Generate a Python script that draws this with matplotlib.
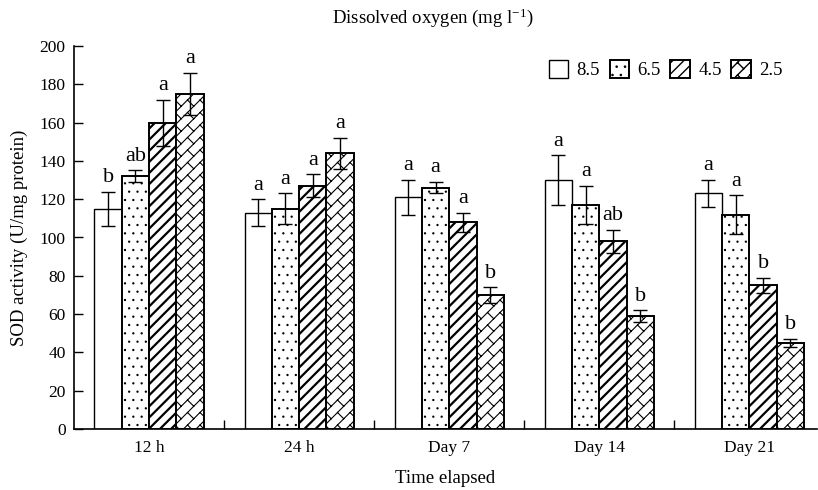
import matplotlib
matplotlib.use('Agg')
import matplotlib.pyplot as plt
import matplotlib.hatch as mhatch
from matplotlib.path import Path
import numpy as np

# data
times = ['12 h', '24 h', 'Day 7', 'Day 14', 'Day 21']
oxygen = ['8.5', '6.5', '4.5', '2.5']
sod_85 = [115, 113, 121, 130, 123]
sod_65 = [132, 115, 126, 117, 112]
sod_45 = [160, 127, 108, 98, 75]
sod_25 = [175, 144, 70, 59, 45]
err_85 = [9, 7, 9, 13, 7]
err_65 = [3, 8, 3, 10, 10]
err_45 = [12, 6, 5, 6, 4]
err_25 = [11, 8, 4, 3, 2]
let_85 = ['b', 'a', 'a', 'a', 'a']
let_65 = ['ab', 'a', 'a', 'a', 'a']
let_45 = ['a', 'a', 'a', 'ab', 'b']
let_25 = ['a', 'a', 'b', 'b', 'b']


class BrickHatch(mhatch.HatchPatternBase):
    # diagonal brick pattern, drawn for the '*' hatch character
    def __init__(self, hatch, density):
        self.n = 8 if '*' in hatch else 0
        self.segs = self.make_segs() if self.n else []
        self.num_vertices = 2 * len(self.segs)

    def make_segs(self):
        n = self.n
        segs = []
        for k in range(-n - 2, n + 3):
            a = k / n
            segs.append(((a - 1.5, -1.5), (a + 1.5, 1.5)))
            for m in range(-2, 2 * n + 3):
                if m % 2 != k % 2:
                    continue
                c = m / n
                segs.append((((c + a) / 2, (c - a) / 2),
                             ((c + a + 1 / n) / 2, (c - a - 1 / n) / 2)))
        return segs

    def set_vertices_and_codes(self, vertices, codes):
        for i, (p, q) in enumerate(self.segs):
            vertices[2 * i] = p
            vertices[2 * i + 1] = q
            codes[2 * i] = Path.MOVETO
            codes[2 * i + 1] = Path.LINETO


mhatch._hatch_types[:] = [t for t in mhatch._hatch_types if t is not mhatch.Stars] + [BrickHatch]
mhatch.SmallFilledCircles.size = 0.07

plt.rcParams['font.family'] = ['Liberation Serif', 'DejaVu Serif']
plt.rcParams['mathtext.default'] = 'regular'
plt.rcParams['font.size'] = 12.5

fig = plt.figure(figsize=(8.18, 4.9), dpi=100)
ax = fig.add_axes([74/818, 61/490, 743/818, 383/490])

values = [sod_85, sod_65, sod_45, sod_25]
errors = [err_85, err_65, err_45, err_25]
letters = [let_85, let_65, let_45, let_25]
hatches = [None, '..', '///', '*']
hlw = [0.8, 0.8, 1.6, 0.8]
elw = [1.0, 1.4, 1.4, 1.4]

x = np.arange(len(times))
width = 0.182
for i in range(4):
    pos = x + (i - 1.5) * width
    with plt.rc_context({'hatch.linewidth': hlw[i]}):
        bars = ax.bar(pos, values[i], width, color='white', edgecolor='black',
                      linewidth=elw[i], hatch=hatches[i], label=oxygen[i], zorder=2)
    for b in bars:
        if hasattr(b, 'set_hatch_linewidth'):
            b.set_hatch_linewidth(hlw[i])
    ax.errorbar(pos, values[i], yerr=errors[i], fmt='none', ecolor='black',
                elinewidth=1, capsize=5, capthick=1, zorder=3)
    for p, v, e, t in zip(pos, values[i], errors[i], letters[i]):
        ax.text(p, v + e + 5, t, ha='center', va='baseline', fontsize=16)

ax.set_xlim(-0.5, 4.45)
ax.set_ylim(0, 200)
ax.set_yticks(np.arange(0, 201, 20))
ax.tick_params(axis='y', direction='in', length=6.5, width=1, pad=6)
ax.set_xticks(x[:-1] + 0.5)
ax.set_xticklabels([])
ax.tick_params(axis='x', which='major', direction='in', length=6.5, width=1)
ax.set_xticks(x, minor=True)
ax.set_xticklabels(times, minor=True)
ax.tick_params(axis='x', which='minor', length=0, pad=8)
for s in ['top', 'right']:
    ax.spines[s].set_visible(False)
ax.spines['left'].set_linewidth(1.2)
ax.spines['bottom'].set_linewidth(1.2)

ax.set_ylabel('SOD activity (U/mg protein)', fontsize=13.5, labelpad=8)
ax.set_xlabel('Time elapsed', fontsize=13.5, labelpad=10)
fig.text(433/818, 1 - 18/490, 'Dissolved oxygen (mg l$^{-1}$)', ha='center',
         va='center', fontsize=13.5)

ax.legend(loc='upper right', bbox_to_anchor=(0.977, 1.007), ncol=4, frameon=False,
          handlelength=1.05, handleheight=1.05, columnspacing=0.5, handletextpad=0.45,
          fontsize=13.5)

plt.savefig('out.png', dpi=100)
